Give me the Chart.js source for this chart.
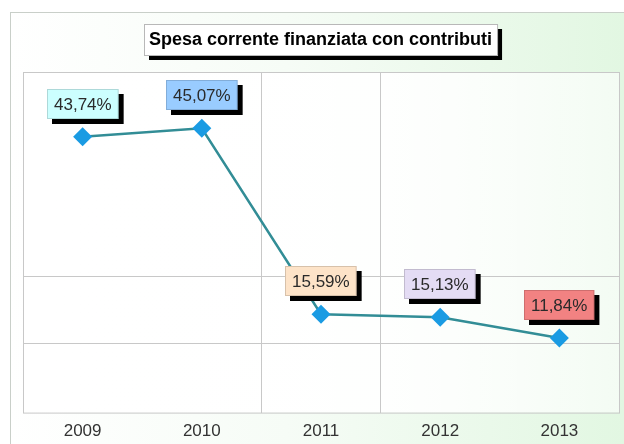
<!DOCTYPE html>
<html lang="it">
<head>
  <meta charset="UTF-8">
  <title>Spesa corrente finanziata con contributi</title>
  <script src="https://cdn.jsdelivr.net/npm/chart.js"></script>
  <style>
    body { margin: 0; padding: 0; background: #fff; }
    #wrap { width: 624px; height: 444px; position: relative; }
  </style>
</head>
<body>
  <div id="wrap"><canvas id="chart" width="624" height="444"></canvas></div>
  <script>
    // data
    const years = ['2009', '2010', '2011', '2012', '2013'];
    const values = [43.74, 45.07, 15.59, 15.13, 11.84];
    const labelTexts = ['43,74%', '45,07%', '15,59%', '15,13%', '11,84%'];
    const labelColors = ['#ccffff', '#99ccff', '#fde3c8', '#e4dcf4', '#f28282'];
    const yGridValues = [11, 21.5];
    const chartTitle = 'Spesa corrente finanziata con contributi';

    // background, outer frame, plot area and the title box
    const backdrop = {
      id: 'backdrop',
      beforeDraw(chart) {
        const { ctx, chartArea: a, width, height } = chart;
        ctx.save();
        ctx.fillStyle = '#fff';
        ctx.fillRect(0, 0, width, height);
        const g = ctx.createLinearGradient(10, 0, width, 0);
        g.addColorStop(0, '#ffffff');
        g.addColorStop(0.45, '#f6fcf6');
        g.addColorStop(1, '#e2f7e2');
        ctx.fillStyle = g;
        ctx.fillRect(10, 12, width - 10, height - 12);
        ctx.strokeStyle = '#c9cfc9';
        ctx.lineWidth = 1;
        ctx.strokeRect(10.5, 12.5, width, height);
        const pg = ctx.createLinearGradient(a.left, 0, a.right, 0);
        pg.addColorStop(0, 'rgba(255,255,255,1)');
        pg.addColorStop(0.6, 'rgba(255,255,255,0.95)');
        pg.addColorStop(1, 'rgba(255,255,255,0.6)');
        ctx.fillStyle = pg;
        ctx.fillRect(a.left, a.top, a.right - a.left, a.bottom - a.top);

        // title box with black shadow
        ctx.font = 'bold 18px "Liberation Sans", Arial, sans-serif';
        const tw = ctx.measureText(chartTitle).width;
        const bw = tw + 10, bh = 31;
        const bx = Math.round(321 - bw / 2), by = 24;
        ctx.fillStyle = '#000';
        ctx.fillRect(bx + 5, by + 5, bw, bh);
        ctx.fillStyle = '#fff';
        ctx.fillRect(bx, by, bw, bh);
        ctx.strokeStyle = '#b8b8b8';
        ctx.strokeRect(bx + 0.5, by + 0.5, bw, bh);
        ctx.fillStyle = '#000';
        ctx.textAlign = 'center';
        ctx.textBaseline = 'middle';
        ctx.fillText(chartTitle, bx + bw / 2, by + bh / 2 + 1);
        ctx.restore();
      },
      afterDraw(chart) {
        const { ctx, chartArea: a } = chart;
        ctx.save();
        ctx.strokeStyle = '#c8c8c8';
        ctx.lineWidth = 1;
        ctx.strokeRect(a.left + 0.5, a.top + 0.5, a.right - a.left, a.bottom - a.top);
        ctx.restore();
        drawLabels(chart);
      }
    };

    // coloured value boxes above each point
    function drawLabels(chart) {
      const { ctx } = chart;
      const pts = chart.getDatasetMeta(0).data;
      ctx.save();
      ctx.font = '17px "Liberation Sans", Arial, sans-serif';
      ctx.textAlign = 'center';
      ctx.textBaseline = 'middle';
      pts.forEach((p, i) => {
        const w = ctx.measureText(labelTexts[i]).width + 14, h = 30;
        const cx = p.x, cy = p.y - 33;
        const x = Math.round(cx - w / 2), y = Math.round(cy - h / 2);
        ctx.fillStyle = '#000';
        ctx.fillRect(x + 5, y + 5, w, h);
        ctx.fillStyle = labelColors[i];
        ctx.fillRect(x, y, w, h);
        ctx.strokeStyle = 'rgba(0,0,0,0.15)';
        ctx.strokeRect(x + 0.5, y + 0.5, w - 1, h - 1);
        ctx.fillStyle = '#2a2a2a';
        ctx.fillText(labelTexts[i], x + w / 2, y + h / 2 + 1);
      });
      ctx.restore();
    }

    new Chart(document.getElementById('chart'), {
      type: 'line',
      data: {
        labels: years,
        datasets: [{
          data: values,
          borderColor: '#328d96',
          borderWidth: 2.5,
          tension: 0,
          pointStyle: 'rectRot',
          pointRadius: 9.5,
          pointHoverRadius: 9.5,
          pointBackgroundColor: '#1a9be3',
          pointBorderColor: '#1a9be3',
          pointBorderWidth: 0
        }]
      },
      options: {
        responsive: false,
        animation: false,
        events: [],
        layout: { autoPadding: false, padding: { left: 23, right: 5, top: 72, bottom: -7 } },
        plugins: { legend: { display: false }, tooltip: { enabled: false } },
        scales: {
          x: {
            offset: true,
            grid: {
              offset: true,
              drawTicks: false,
              color: ctx => (ctx.index === 2 || ctx.index === 3) ? '#c8c8c8' : 'rgba(0,0,0,0)'
            },
            border: { display: false },
            ticks: {
              padding: 9,
              color: '#333',
              font: { family: '"Liberation Sans", Arial, sans-serif', size: 17 }
            }
          },
          y: {
            min: 0,
            max: 54,
            afterBuildTicks: axis => { axis.ticks = yGridValues.map(v => ({ value: v })); },
            grid: { drawTicks: false, color: '#c8c8c8' },
            border: { display: false },
            ticks: { display: false }
          }
        }
      },
      plugins: [backdrop]
    });
  </script>
</body>
</html>
